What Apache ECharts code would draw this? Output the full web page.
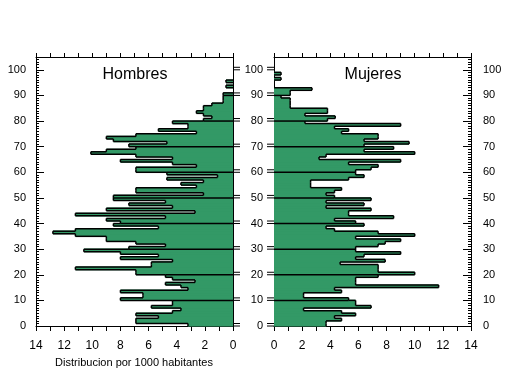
<!DOCTYPE html>
<html><head><meta charset="utf-8">
<script src="https://cdn.jsdelivr.net/npm/echarts@6/dist/echarts.min.js"></script>
<style>html,body{margin:0;padding:0;background:#fff}#c{width:509px;height:376px}</style>
</head><body><div id="c"></div>
<script>
// Distribution per 1000 inhabitants, by single year of age (index = age)
const hombres = [
 3.2,6.9,6.9,5.3,6.9,4.3,3.7,5.8,4.3,4.3,
 8.0,6.4,6.4,8.0,3.2,3.7,4.8,2.7,4.3,4.8,
 6.9,6.9,11.2,5.8,5.8,4.3,8.0,5.3,8.0,10.6,
 7.4,4.8,6.9,9.0,9.0,11.2,12.8,11.2,5.3,8.5,
 8.0,9.0,4.8,11.2,2.7,9.0,4.3,7.4,4.8,8.5,
 8.5,2.1,6.9,6.9,2.6,3.7,2.1,4.7,1.1,4.7,
 6.9,6.9,2.6,4.3,8.0,4.3,6.9,10.1,9.0,6.9,
 7.4,4.7,8.5,9.0,6.9,2.6,5.3,3.2,3.2,4.3,
 2.1,1.5,2.1,2.6,2.1,2.1,1.5,0.7,0.7,0.7,
 0.7,0,0,0.5,0,0.5,0,0,0,0
];
const mujeres = [
 3.7,3.7,4.8,4.3,5.8,4.8,2.1,6.9,5.8,5.8,
 5.3,2.1,2.1,4.8,4.3,11.7,5.8,5.8,5.8,7.4,
 10.0,7.4,7.4,7.4,4.7,7.9,5.8,6.4,9.0,5.8,
 5.8,7.4,7.9,9.0,5.8,10.0,7.4,4.3,3.7,6.4,
 5.8,4.3,8.5,5.3,5.3,6.9,3.7,6.4,3.7,6.9,
 4.3,3.7,4.3,4.8,2.6,2.6,2.6,5.3,6.4,5.8,
 5.8,6.9,7.4,5.3,9.0,3.2,3.7,10.0,6.4,8.5,
 6.4,9.6,6.4,7.4,7.4,4.8,5.3,4.3,9.0,2.2,
 3.8,4.35,2.2,3.8,3.8,1.15,1.15,1.15,1.15,0.5,
 1.15,1.15,2.7,0,0,0,0.5,0,0.5,0
];
const ageTicks = [0,10,20,30,40,50,60,70,80,90,100];
const xTickLabels = [0,2,4,6,8,10,12,14];
const panelTitles = ['Hombres','Mujeres'];
const xAxisTitle = 'Distribucion por 1000 habitantes';

const FONT = '"Liberation Sans", Arial, sans-serif';
const GREEN = '#339966';
const BLACK = '#000';

function items(arr){
  return arr.map((v,i)=>[i, v, i+1<arr.length?arr[i+1]:0, i>0?arr[i-1]:0]);
}
function fillItem(params, api){
  const a=api.value(0), v=api.value(1);
  if(!(v>0)) return null;
  const p0=api.coord([0,a]), p1=api.coord([v,a+1]);
  return {type:'rect', shape:{x:Math.min(p0[0],p1[0]), y:p1[1]-0.6, width:Math.abs(p1[0]-p0[0]), height:p0[1]-p1[1]+1.2}, style:{fill:GREEN}};
}
function outlineItem(params, api){
  const a=api.value(0), v=api.value(1), n=api.value(2), pv=api.value(3);
  const ch=[];
  const L=(p,q)=>ch.push({type:'line', shape:{x1:p[0],y1:p[1],x2:q[0],y2:q[1]}, style:{stroke:BLACK, lineWidth:1.5}});
  if (v>0) L(api.coord([v,a]), api.coord([v,a+1]));
  if (v!==n) L(api.coord([v,a+1]), api.coord([n,a+1]));
  if (a%10===0 && a>0){ const m=Math.min(v,pv); if(m>0) L(api.coord([0,a]), api.coord([m,a])); }
  return {type:'group', children:ch};
}
function stubItem(dir){ return function(params, api){
  const a=api.value(0);
  const p=api.coord([0,a]);
  const st={stroke:BLACK, lineWidth:1};
  return {type:'group', children:[
    {type:'line', shape:{x1:p[0],y1:p[1],x2:p[0]+dir*7,y2:p[1]}, style:st},
    {type:'line', shape:{x1:p[0],y1:p[1]-2.5,x2:p[0]+dir*7,y2:p[1]-2.5}, style:st}
  ]};
};}

function xAx(grid, inverse, pos){
  const bottom = pos==='bottom';
  return {gridIndex:grid, type:'value', min:0, max:14, interval:1, inverse:inverse, position:pos,
    axisLine:{show:true, onZero:false, lineStyle:{color:BLACK, width:1}},
    axisTick:{show:true, inside:false, length:bottom?5:4, lineStyle:{color:BLACK}},
    axisLabel:{show:bottom, margin:14, fontSize:12, color:BLACK, fontFamily:FONT, formatter:v=>xTickLabels.includes(v)?String(v):''},
    splitLine:{show:false}};
}
function yAx(grid, pos, opt){
  return Object.assign({gridIndex:grid, type:'value', min:0, max:105, interval:10, position:pos,
    axisLine:{show:true, onZero:false, lineStyle:{color:BLACK, width:1}},
    axisTick:{show:false},
    axisLabel:{show:false},
    splitLine:{show:false}}, opt);
}
const yLabel = (margin)=>({show:true, margin:margin, color:BLACK, fontSize:11, fontFamily:FONT, formatter:v=>ageTicks.includes(v)?String(v):''});
const minorOpt = {interval:1, axisLine:{show:false, onZero:false}, axisTick:{show:true, inside:true, length:3, lineStyle:{color:BLACK}}};

const chart = echarts.init(document.getElementById('c'), null, {renderer:'canvas'});
chart.setOption({
  animation:false,
  backgroundColor:'#fff',
  grid:[
    {left:36, top:57, width:197, height:269},
    {left:274, top:57, width:197, height:269}
  ],
  xAxis:[ xAx(0,true,'bottom'), xAx(0,true,'top'), xAx(1,false,'bottom'), xAx(1,false,'top') ],
  yAxis:[
    yAx(0,'left',{axisTick:{show:true, inside:true, length:8, lineStyle:{color:BLACK}}, axisLabel:yLabel(10)}),
    yAx(0,'left',minorOpt),
    yAx(0,'right',{}),
    yAx(1,'left',{axisLabel:yLabel(11)}),
    yAx(1,'right',{axisTick:{show:true, inside:true, length:8, lineStyle:{color:BLACK}}, axisLabel:yLabel(12)}),
    yAx(1,'right',minorOpt)
  ],
  series:[
    {type:'custom', xAxisIndex:0, yAxisIndex:0, data:items(hombres), renderItem:fillItem, z:2},
    {type:'custom', xAxisIndex:2, yAxisIndex:3, data:items(mujeres), renderItem:fillItem, z:2},
    {type:'custom', xAxisIndex:0, yAxisIndex:0, data:items(hombres), renderItem:outlineItem, z:3},
    {type:'custom', xAxisIndex:2, yAxisIndex:3, data:items(mujeres), renderItem:outlineItem, z:3},
    {type:'custom', xAxisIndex:0, yAxisIndex:0, data:ageTicks.map(a=>[a]), renderItem:stubItem(1), z:3},
    {type:'custom', xAxisIndex:2, yAxisIndex:3, data:ageTicks.map(a=>[a]), renderItem:stubItem(-1), z:3}
  ],
  graphic:[
    {type:'text', x:135, y:75, style:{text:panelTitles[0], fill:BLACK, font:'16px '+FONT, align:'center', verticalAlign:'middle'}},
    {type:'text', x:373, y:75, style:{text:panelTitles[1], fill:BLACK, font:'16px '+FONT, align:'center', verticalAlign:'middle'}},
    {type:'text', x:134, y:363, style:{text:xAxisTitle, fill:BLACK, font:'11px '+FONT, align:'center', verticalAlign:'middle'}}
  ]
});
</script></body></html>
